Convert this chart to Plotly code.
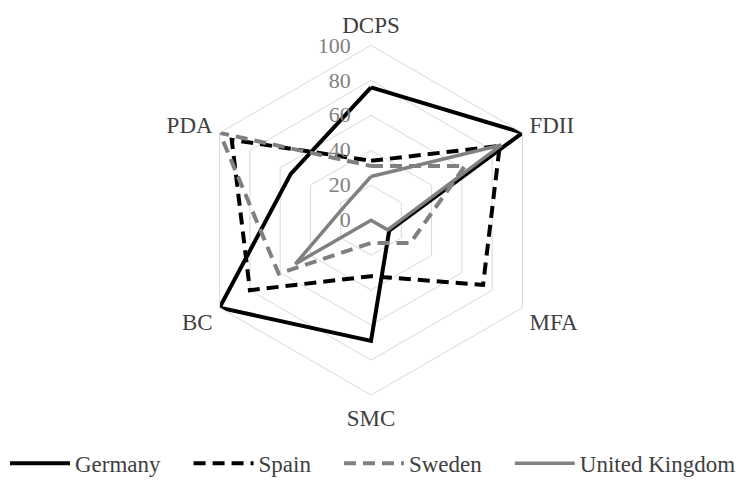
import plotly.graph_objects as go

categories = ["DCPS", "FDII", "MFA", "SMC", "BC", "PDA"]
germany = [76, 100, 12, 69, 100, 53]
spain = [34, 85, 74, 32, 80, 92]
sweden = [31, 62, 26, 13, 61, 100]
uk = [25, 86, 11, 0, 50, 17]
radial_ticks = [0, 20, 40, 60, 80, 100]

NB = "\u00a0"
series = [
    ("Germany", germany, "#000000", "solid", 4),
    ("Spain", spain, "#000000", "12px,7px", 4),
    ("Sweden", sweden, "#808080", "12px,7px", 4),
    ("United Kingdom", uk, "#808080", "solid", 3.5),
]

fig = go.Figure()
for i, (name, vals, color, dash, w) in enumerate(series):
    label = name + (NB * 4 if i < len(series) - 1 else "")
    fig.add_trace(go.Scatterpolar(
        r=vals + vals[:1],
        theta=categories + categories[:1],
        mode="lines",
        name=label,
        line=dict(color=color, width=w, dash=dash),
    ))

FONT = "Liberation Serif"
fig.update_layout(
    width=746, height=485,
    margin=dict(l=0, r=0, t=0, b=0),
    paper_bgcolor="white",
    plot_bgcolor="white",
    font=dict(family=FONT, size=23, color="#404040"),
    polar=dict(
        domain=dict(x=[0.2601, 0.7346], y=[0.1752, 0.9052]),
        bgcolor="white",
        gridshape="linear",
        angularaxis=dict(
            rotation=90,
            direction="clockwise",
            showgrid=False,
            showline=True,
            linecolor="#d9d9d9",
            linewidth=1,
            ticks="outside",
            ticklen=3,
            tickcolor="rgba(0,0,0,0)",
            tickfont=dict(family=FONT, size=23, color="#404040"),
        ),
        radialaxis=dict(
            range=[0, 100],
            tickvals=radial_ticks,
            ticktext=[str(v) + NB * 3 for v in radial_ticks],
            angle=90,
            tickangle=90,
            side="counterclockwise",
            showline=False,
            ticks="",
            gridcolor="#d9d9d9",
            gridwidth=1,
            tickfont=dict(family=FONT, size=22, color="#808080"),
        ),
    ),
    showlegend=True,
    legend=dict(
        orientation="h",
        x=0.5, xanchor="center",
        y=0.033, yanchor="middle",
        font=dict(family=FONT, size=23, color="#404040"),
        itemwidth=60,
        bgcolor="rgba(0,0,0,0)",
    ),
)

fig.write_html(
    "out.html",
    config={"displayModeBar": False},
    post_script="document.body.style.margin='0';",
)
